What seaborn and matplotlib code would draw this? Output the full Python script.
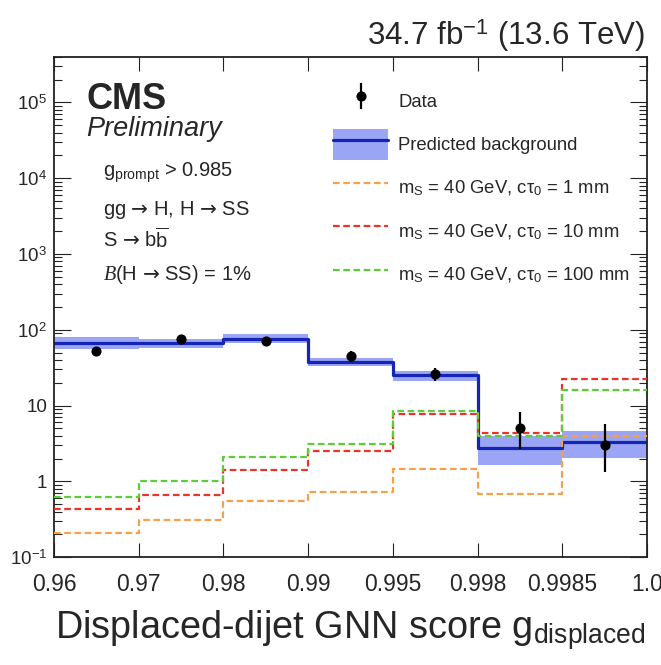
import numpy as np
import pandas as pd
import matplotlib
matplotlib.use("Agg")
import matplotlib.pyplot as plt
import seaborn as sns
from matplotlib.lines import Line2D
from matplotlib.patches import Patch
from matplotlib.legend_handler import HandlerErrorbar
from matplotlib.container import ErrorbarContainer
from matplotlib.ticker import FixedLocator, FuncFormatter, NullFormatter, NullLocator

# bin edges of the GNN score (drawn as equal-width bins)
edge_labels = ['0.96', '0.97', '0.98', '0.99', '0.995', '0.998', '0.9985', '1.0']

# predicted background and its uncertainty band
bkg = [68, 67, 76, 38, 25, 2.8, 3.3]
bkg_lo = [56, 58, 67, 33.7, 21.3, 1.67, 2.04]
bkg_hi = [81, 76, 87, 42.5, 28.9, 3.93, 4.58]

# observed data with asymmetric errors
data = [52, 76, 71, 45, 26, 5.0, 3.0]
data_lo = [45, 67, 63, 38, 21, 2.7, 1.35]
data_hi = [59, 85, 79, 52, 31, 8.2, 5.8]

# signal hypotheses, mS = 40 GeV
sig_1mm = [0.21, 0.31, 0.56, 0.73, 1.48, 0.69, 4.0]
sig_10mm = [0.43, 0.67, 1.42, 2.5, 7.7, 4.4, 22.5]
sig_100mm = [0.62, 1.03, 2.1, 3.15, 8.6, 4.0, 16.3]

sig_labels = ['m$_\\mathrm{S}$ = 40 GeV, cτ$_0$ = 1 mm',
              'm$_\\mathrm{S}$ = 40 GeV, cτ$_0$ = 10 mm',
              'm$_\\mathrm{S}$ = 40 GeV, cτ$_0$ = 100 mm']
sig_colors = ['#f5a04a', '#e8352b', '#5ccc38']

sns.set_style("ticks")
plt.rcParams['font.family'] = ['Liberation Sans', 'DejaVu Sans']
plt.rcParams['mathtext.fontset'] = 'custom'
plt.rcParams['mathtext.rm'] = 'Liberation Sans'
plt.rcParams['mathtext.it'] = 'Liberation Serif:italic'
plt.rcParams['mathtext.bf'] = 'Liberation Sans:bold'
plt.rcParams['mathtext.sf'] = 'DejaVu Sans'

W, H = 661, 665
fig = plt.figure(figsize=(W/100, H/100), dpi=100)
ax = fig.add_axes([54/W, 1-557.3/H, 593/W, 500.6/H])

nb = len(bkg)
edges = list(range(nb+1))
centers = [i + 0.5 for i in range(nb)]

band_c = '#9aa6f5'
line_c = '#1424b4'

ax.bar(centers, np.array(bkg_hi)-np.array(bkg_lo), bottom=bkg_lo, width=1,
       color=band_c, linewidth=0, zorder=1)

df = pd.DataFrame({'x': centers, 'bkg': bkg, 's1': sig_1mm, 's10': sig_10mm, 's100': sig_100mm})
sns.histplot(data=df, x='x', weights='bkg', bins=edges, element='step', fill=False,
             color=line_c, linewidth=2.3, ax=ax, zorder=2)

for col, c in zip(['s1', 's10', 's100'], sig_colors):
    sns.histplot(data=df, x='x', weights=col, bins=edges, element='step', fill=False,
                 color=c, linewidth=1.6, linestyle=(0, (3, 1.6)), ax=ax, zorder=3)

d = np.array(data)
eb = ax.errorbar(centers, d, yerr=[d-np.array(data_lo), np.array(data_hi)-d],
                 fmt='o', color='k', ms=6.3, elinewidth=1.6, capsize=0, zorder=4)

ax.set_yscale('log')
ax.set_ylim(0.1, 4e5)
ax.set_xlim(0, nb)
ax.set_xlabel('')
ax.set_ylabel('')

ax.xaxis.set_major_locator(FixedLocator(edges))
ax.xaxis.set_minor_locator(NullLocator())
ax.set_xticklabels(edge_labels)
ax.yaxis.set_major_locator(FixedLocator([10.0**e for e in range(-1, 6)]))
ax.yaxis.set_minor_locator(FixedLocator([m*10.0**e for e in range(-1, 6) for m in range(2, 10)]))
ax.yaxis.set_minor_formatter(NullFormatter())

def ylab(v, pos):
    if abs(v - 1) < 1e-9:
        return '1'
    if abs(v - 10) < 1e-9:
        return '10'
    return '$10^{%d}$' % int(round(np.log10(v)))
ax.yaxis.set_major_formatter(FuncFormatter(ylab))

ax.tick_params(which='both', direction='in', top=True, right=True, width=0.8, color='#222222')
ax.tick_params(axis='x', which='major', length=10, labelsize=16.5, pad=11.5)
ax.tick_params(axis='y', which='major', length=12.5, labelsize=13.5, pad=5)
ax.tick_params(axis='y', which='minor', length=6, width=0.8)
for s in ax.spines.values():
    s.set_linewidth(1.3)
    s.set_color('#222222')

# x axis title
fig.text(645/W, 1-639/H, 'Displaced-dijet GNN score g$_\\mathrm{displaced}$',
         ha='right', va='baseline', fontsize=27.3)

# lumi label
fig.text(645/W, 1-45/H, '34.7 fb$^{-1}$ (13.6 TeV)', ha='right', va='baseline', fontsize=22.5)

arr = ' $\\mathsf{→}$ '
fig.text(86/W, 1-109/H, 'CMS', fontsize=26, fontweight='bold', va='baseline')
fig.text(86/W, 1-136/H, 'Preliminary', fontsize=19.5, fontstyle='italic', va='baseline')
fig.text(102.7/W, 1-177/H, 'g$_\\mathrm{prompt}$ > 0.985', fontsize=14.5, va='baseline')
fig.text(102.7/W, 1-215/H, 'gg' + arr + 'H, H' + arr + 'SS', fontsize=14.5, va='baseline')
fig.text(102.7/W, 1-248/H, 'S' + arr + 'b$\\overline{\\mathrm{b}}$', fontsize=14.5, va='baseline')
fig.text(102.7/W, 1-280/H, '$\\mathit{B}$(H' + arr + 'SS) = 1%', fontsize=14.5, va='baseline')

handles = [eb, (Patch(color=band_c, linewidth=0), Line2D([], [], color=line_c, lw=2.3))]
for c in sig_colors:
    handles.append(Line2D([], [], color=c, lw=1.6, linestyle=(0, (3, 1.6))))
labels = ['Data', 'Predicted background'] + sig_labels

fs = 13.3
fpx = fs*100/72
fig.legend(handles, labels, loc='upper left', bbox_to_anchor=(333/W, 1-85.5/H),
           frameon=False, fontsize=fs, handlelength=55/fpx,
           handleheight=2.2, handletextpad=0.55, labelspacing=12.5/fpx,
           borderpad=0, borderaxespad=0,
           handler_map={ErrorbarContainer: HandlerErrorbar(xerr_size=0.7)})

fig.savefig('out.png', dpi=100)
